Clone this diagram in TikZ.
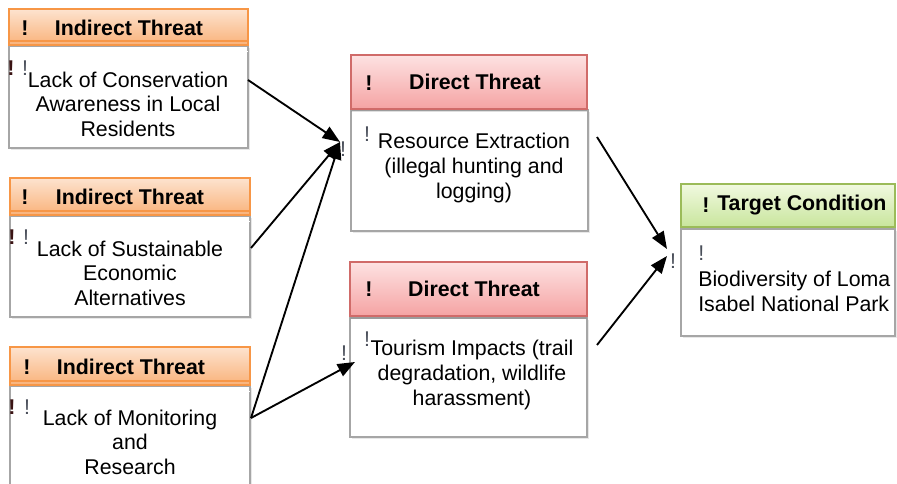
\documentclass[tikz,border=0pt]{standalone}
\usepackage{fontspec}
\setmainfont{Liberation Sans}
\usetikzlibrary{arrows.meta,shadows}

\definecolor{indLine}{HTML}{F79646}
\definecolor{indTop}{HTML}{FDE3CF}
\definecolor{indBot}{HTML}{F9B27A}
\definecolor{dirLine}{HTML}{D06B69}
\definecolor{dirTop}{HTML}{FDE2E2}
\definecolor{dirBot}{HTML}{F5A3A3}
\definecolor{tgtLine}{HTML}{9BBB59}
\definecolor{tgtTop}{HTML}{F1F9E0}
\definecolor{tgtBot}{HTML}{C8E59C}
\definecolor{bodyLine}{HTML}{A6A6A6}
\definecolor{markDark}{HTML}{3A1414}
\definecolor{markGray}{HTML}{4A4F5A}

\begin{document}
\begin{tikzpicture}[x=0.75pt,y=-0.75pt,
  box/.style={anchor=north west,inner sep=0pt,outer sep=0pt,rectangle},
  bodybox/.style={box,draw=bodyLine,line width=0.9pt,fill=white,
    drop shadow={opacity=0.18,shadow xshift=1.2pt,shadow yshift=-1.5pt}},
  indhead/.style={box,draw=indLine,line width=0.9pt,top color=indTop,bottom color=indBot},
  dirhead/.style={box,draw=dirLine,line width=0.9pt,top color=dirTop,bottom color=dirBot,
    drop shadow={opacity=0.25,shadow xshift=0pt,shadow yshift=-2.5pt}},
  tgthead/.style={box,draw=tgtLine,line width=0.9pt,top color=tgtTop,bottom color=tgtBot},
  big/.style={font=\fontsize{16}{18.4}\selectfont,inner sep=0pt},
  headtext/.style={big,font=\fontsize{16}{18.4}\selectfont\bfseries},
  bodytext/.style={big,align=center},
  lefttext/.style={big,align=left,anchor=west},
  bang/.style={big,text=markGray},
  bangdark/.style={big,text=markDark,font=\fontsize{16}{18.4}\selectfont\bfseries},
  arr/.style={line width=1.4pt,-{Triangle[length=13pt,width=10pt]}},
  orangestrip/.style={draw=indLine,line width=2pt}
]
\useasboundingbox (0,0) rectangle (897,484);

% ---------- indirect threats ----------
\node[bodybox,minimum width=179.25pt,minimum height=76.5pt] (ind1b) at (9,46) {};
\node[indhead,minimum width=179.25pt,minimum height=27pt] (ind1h) at (9,9) {};
\node[bodybox,minimum width=180pt,minimum height=75.75pt] (ind2b) at (10,216) {};
\node[indhead,minimum width=180pt,minimum height=27.75pt] (ind2h) at (10,178) {};
\node[bodybox,minimum width=180pt,minimum height=82.5pt] (ind3b) at (10,386) {};
\node[indhead,minimum width=180pt,minimum height=28.5pt] (ind3h) at (10,347) {};

\draw[orangestrip] (ind1b.north west) ++(0,-5) coordinate (o1a) -- (ind1b.north east |- o1a);
\draw[orangestrip] (ind2b.north west) ++(0,-5) coordinate (o2a) -- (ind2b.north east |- o2a);
\draw[orangestrip] (ind3b.north west) ++(0,-5) coordinate (o3a) -- (ind3b.north east |- o3a);
\draw[white,line width=0.6pt] (193,51) coordinate (w1a) -- (ind1b.north east |- w1a);
\draw[white,line width=0.6pt] (160,221) coordinate (w2a) -- (ind2b.north east |- w2a);
\draw[white,line width=0.6pt] (105,391) coordinate (w3a) -- (ind3b.north east |- w3a);

\node[headtext] (ind1x) at (25,28) {!};
\node[headtext] (ind1t) at (129,28) {Indirect Threat};
\node[bangdark] (ind1m) at (11,68) {!};
\node[bang] (ind1n) at (25,68) {!};
\node[bodytext] (ind1c) at (128,104) {Lack of Conservation\\Awareness in Local\\Residents};

\node[headtext] (ind2x) at (25,197) {!};
\node[headtext] (ind2t) at (130,197) {Indirect Threat};
\node[bangdark] (ind2m) at (12,237) {!};
\node[bang] (ind2n) at (26,237) {!};
\node[bodytext] (ind2c) at (130,273) {Lack of Sustainable\\Economic\\Alternatives};

\node[headtext] (ind3x) at (27,367) {!};
\node[headtext] (ind3t) at (131,367) {Indirect Threat};
\node[bangdark] (ind3m) at (12,407) {!};
\node[bang] (ind3n) at (27,407) {!};
\node[bodytext] (ind3c) at (130,442) {Lack of Monitoring\\and\\Research};

% ---------- direct threats ----------
\node[bodybox,minimum width=177.75pt,minimum height=90.75pt] (dir1b) at (351,110) {};
\node[dirhead,minimum width=177pt,minimum height=40.5pt] (dir1h) at (351,55) {};
\node[bodybox,minimum width=177.75pt,minimum height=89.25pt] (dir2b) at (350,318) {};
\node[dirhead,minimum width=177.75pt,minimum height=40.5pt] (dir2h) at (350,262) {};

\node[headtext] (dir1x) at (369,83) {!};
\node[headtext] (dir1t) at (475,82) {Direct Threat};
\node[bang] (dir1m) at (367,134) {!};
\node[bodytext] (dir1c) at (474,168) {Resource Extraction\\(illegal hunting and\\logging)};

\node[headtext] (dir2x) at (369,289) {!};
\node[headtext] (dir2t) at (474,289) {Direct Threat};
\node[bang] (dir2m) at (367,339) {!};
\node[bodytext] (dir2c) at (472,375) {Tourism Impacts (trail\\degradation, wildlife\\harassment)};

% ---------- target ----------
\node[bodybox,minimum width=160.5pt,minimum height=80.25pt] (tgtb) at (681,229) {};
\node[tgthead,minimum width=160.5pt,minimum height=32.25pt] (tgth) at (681,184) {};
\node[headtext] (tgtx) at (706,205) {!};
\node[headtext,anchor=west] (tgtt) at (717,205) {Target Condition};
\node[bang,anchor=west] (tgtm) at (698,253) {!};
\node[lefttext] (tgtc) at (698,291.5) {Biodiversity of Loma\\Isabel National Park};

% ---------- junction marks and arrow ends ----------
\node[bang] (j1m) at (343,149) {!};
\node[bang] (j2m) at (344,353) {!};
\node[bang] (j3m) at (673,261) {!};
\coordinate (j1) at (340,142);
\coordinate (j2) at (355,362);
\coordinate (j3) at (667,249);
\coordinate (j4) at (667,256);

\coordinate (s1) at (ind1b.east |- 0,80);
\coordinate (s2) at (251,248);
\coordinate (s3) at (251,418);
\coordinate (s4) at (597,137);
\coordinate (s5) at (597,345);

\draw[arr] (s1) -- (j1);
\draw[arr] (s2) -- (j1);
\draw[arr] (s3) -- (j1);
\draw[arr] (s3) -- (j2);
\draw[arr] (s4) -- (j3);
\draw[arr] (s5) -- (j4);
\end{tikzpicture}
\end{document}
